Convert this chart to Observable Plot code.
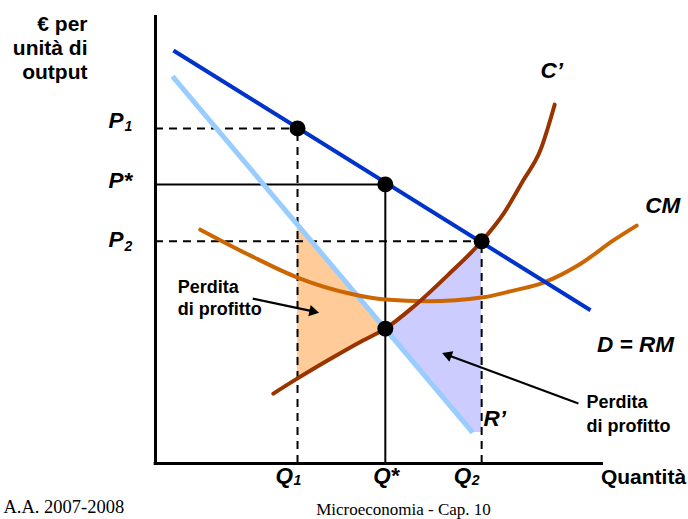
<!DOCTYPE html>
<html><head><meta charset="utf-8">
<script src="https://cdn.jsdelivr.net/npm/d3@7"></script>
<script src="https://cdn.jsdelivr.net/npm/@observablehq/plot@0.6"></script>
<style>body{margin:0;background:#fff}</style>
</head><body><div id="chart"></div>
<script>
// ---- data (quantity / price units 0–100) ----
const qLevels = [31.7, 51.3, 72.8];            // Q1, Q*, Q2
const qSubs   = ["1", "*", "2"];
const pLevels = [74.8, 62.3, 49.6];            // P1, P*, P2
const pSubs   = ["1", "*", "2"];

const demandX = [4.0, 97.1];                    // D = RM
const demandY = [92.2, 34.2];
const mrX = [3.8, 70.8];                        // R'
const mrY = [86.4, 6.9];
const mcX = [26.3, 31.7, 38.4, 45.8, 51.3, 57.6, 65.2, 72.8, 77.7, 82.1, 85.9, 89.1];   // C'
const mcY = [15.6, 19.0, 23.0, 27.2, 30.1, 35.0, 42.0, 49.6, 55.8, 63.2, 69.9, 80.1];
const acX = [10.0, 21.2, 31.7, 43.5, 51.3, 60.7, 73.2, 79.9, 86.6, 94.9, 102.2, 107.4]; // CM
const acY = [52.2, 46.4, 41.5, 37.9, 36.6, 36.2, 37.1, 38.6, 40.4, 44.6, 49.8, 53.1];

const lossLowX  = [31.7, 38.4, 45.8, 51.3];          // orange: between R' and C' (Q1..Q*)
const lossLowMC = [19.0, 23.0, 27.2, 30.1];
const lossLowMR = [53.3, 45.3, 36.6, 30.1];
const lossHighX  = [51.3, 57.6, 65.2, 70.8, 72.8];   // violet: between C' and R' (Q*..Q2)
const lossHighMC = [30.1, 35.0, 42.0, 47.6, 49.6];
const lossHighMR = [30.1, 22.6, 13.6, 6.9, 6.9];
const mcAtQstar = 30.1;

// annotation arrows (from label to shaded area)
const arrowStartX = [21.7, 94.4];
const arrowStartY = [36.8, 13.4];
const arrowEndX = [36.4, 64.1];
const arrowEndY = [33.7, 24.6];

const sans = "'Liberation Sans', Arial, Helvetica, sans-serif";
const serif = "'Liberation Serif', 'Times New Roman', serif";

const zip = (xs, ys) => xs.map((x, i) => ({x, y: ys[i]}));
const demand = zip(demandX, demandY);
const mr = zip(mrX, mrY);
const mc = zip(mcX, mcY);
const ac = zip(acX, acY);
const lossLow = lossLowX.map((x, i) => ({x, y1: lossLowMC[i], y2: lossLowMR[i]}));
const lossHigh = lossHighX.map((x, i) => ({x, y1: lossHighMR[i], y2: lossHighMC[i]}));

const [Q1, Qs, Q2] = qLevels;
const [P1, Ps, P2] = pLevels;

const dots = [{x: Q1, y: P1}, {x: Qs, y: Ps}, {x: Q2, y: P2}, {x: Qs, y: mcAtQstar}];

// arrows: shaft + filled triangular head
const pxPerUnit = 4.48;
const arrows = arrowStartX.map((x1, i) => {
  const y1 = arrowStartY[i], x2 = arrowEndX[i], y2 = arrowEndY[i];
  const sx = (x2 - x1) * pxPerUnit, sy = -(y2 - y1) * pxPerUnit; // screen vector
  const len = Math.hypot(sx, sy);
  const back = 6 / len;
  const rot = Math.atan2(sx, -sy) * 180 / Math.PI;
  const shaftBack = 8 / len;
  return {x1, y1, x2: x2 - (x2 - x1) * shaftBack, y2: y2 - (y2 - y1) * shaftBack,
          hx: x2 - (x2 - x1) * back, hy: y2 - (y2 - y1) * back, rot};
});

const bi = {fontFamily: sans, fontWeight: "bold", fontStyle: "italic"};

// label layout offsets (pixels) – main letter and subscript for each level
const pLayout = [{dy: -8, sdx: -31, sdy: -2, ss: 14}, {dy: -4, sdx: -32, sdy: -4, ss: 22.5}, {dy: -1, sdx: -31, sdy: 5, ss: 14}];
const qLayout = [{dx: -22, sdx: -4, sdy: 17, ss: 14}, {dx: -12, sdx: 5, sdy: 12, ss: 22.5}, {dx: -28, sdx: -10, sdy: 17, ss: 14}];

const pMarks = pLevels.flatMap((p, i) => [
  Plot.text([p], {x: 0, y: d => d, text: () => "P", dx: -47, dy: pLayout[i].dy, textAnchor: "start", fontSize: 22.5, ...bi}),
  Plot.text([p], {x: 0, y: d => d, text: () => pSubs[i], dx: pLayout[i].sdx, dy: pLayout[i].sdy, textAnchor: "start", fontSize: pLayout[i].ss, ...bi})
]);
const qMarks = qLevels.flatMap((q, i) => [
  Plot.text([q], {x: d => d, y: 0, text: () => "Q", dx: qLayout[i].dx, dy: 12, textAnchor: "start", fontSize: 22.5, ...bi}),
  Plot.text([q], {x: d => d, y: 0, text: () => qSubs[i], dx: qLayout[i].sdx, dy: qLayout[i].sdy, textAnchor: "start", fontSize: qLayout[i].ss, ...bi})
]);

const chart = Plot.plot({
  width: 688, height: 519,
  x: {domain: [0, 100], range: [155, 603], axis: null},
  y: {domain: [0, 100], range: [463, 15], axis: null},
  style: {background: "white", overflow: "visible"},
  marks: [
    // shaded profit losses
    Plot.areaY(lossLow, {x: "x", y1: "y1", y2: "y2", fill: "#ffcc99"}),
    Plot.areaY(lossHigh, {x: "x", y1: "y1", y2: "y2", fill: "#ccccff"}),
    // guide lines
    Plot.ruleY([P1], {x1: 0, x2: Q1, stroke: "black", strokeWidth: 2, strokeDasharray: "8,6"}),
    Plot.ruleX([Q1], {y1: 0, y2: P1, stroke: "black", strokeWidth: 2, strokeDasharray: "8,6"}),
    Plot.ruleY([P2], {x1: 0, x2: Q2, stroke: "black", strokeWidth: 2, strokeDasharray: "8,6"}),
    Plot.ruleX([Q2], {y1: 0, y2: P2, stroke: "black", strokeWidth: 2, strokeDasharray: "8,6"}),
    Plot.ruleY([Ps], {x1: 0, x2: Qs, stroke: "black", strokeWidth: 2}),
    Plot.ruleX([Qs], {y1: 0, y2: Ps, stroke: "black", strokeWidth: 2}),
    // curves
    Plot.line(mr, {x: "x", y: "y", stroke: "#99ccff", strokeWidth: 5, strokeLinecap: "butt"}),
    Plot.line(ac, {x: "x", y: "y", stroke: "#cc6600", strokeWidth: 4, curve: "monotone-x", strokeLinecap: "round"}),
    Plot.line(mc, {x: "x", y: "y", stroke: "#993300", strokeWidth: 4, curve: "monotone-x", strokeLinecap: "round"}),
    Plot.line(demand, {x: "x", y: "y", stroke: "#0033cc", strokeWidth: 4, strokeLinecap: "butt"}),
    // axes
    Plot.ruleX([0], {y1: 0, y2: 100, stroke: "black", strokeWidth: 3}),
    Plot.ruleY([0], {x1: -0.3, x2: 100, stroke: "black", strokeWidth: 3}),
    // equilibrium points
    Plot.dot(dots, {x: "x", y: "y", r: 8, fill: "black"}),
    // arrows
    Plot.link(arrows, {x1: "x1", y1: "y1", x2: "x2", y2: "y2", stroke: "black", strokeWidth: 2.2}),
    Plot.dot(arrows, {x: "hx", y: "hy", symbol: "triangle", r: 4.2, fill: "black", rotate: "rot"}),
    // price & quantity labels
    ...pMarks,
    ...qMarks,
    // curve labels
    Plot.text(["C’"], {x: mcX[mcX.length - 1], y: mcY[mcY.length - 1], dx: -3, dy: -34, textAnchor: "middle", fontSize: 22.5, ...bi}),
    Plot.text(["CM"], {x: acX[acX.length - 1], y: acY[acY.length - 1], dx: 26, dy: -20, textAnchor: "middle", fontSize: 22.5, ...bi}),
    Plot.text(["D = RM"], {x: demandX[1], y: demandY[1], dx: 45, dy: 35, textAnchor: "middle", fontSize: 22.5, ...bi}),
    Plot.text(["R’"], {x: mrX[1], y: mrY[1], dx: 22, dy: -14, textAnchor: "middle", fontSize: 22.5, ...bi}),
    // annotations
    Plot.text(["Perdita\ndi profitto"], {x: arrowStartX[0], y: arrowStartY[0], dx: -75, dy: -2, textAnchor: "start", lineAnchor: "middle", lineHeight: 1.25, fontSize: 18, fontFamily: sans, fontWeight: "bold"}),
    Plot.text(["Perdita\ndi profitto"], {x: arrowStartX[1], y: arrowStartY[1], dx: 8, dy: 9, textAnchor: "start", lineAnchor: "middle", lineHeight: 1.32, fontSize: 18, fontFamily: sans, fontWeight: "bold"}),
    // axis titles
    Plot.text(["€ per\nunità di\noutput"], {x: 0, y: 100, dx: -68, dy: 32, textAnchor: "end", lineAnchor: "middle", lineHeight: 1.15, fontSize: 21, fontFamily: sans, fontWeight: "bold"}),
    Plot.text(["Quantità"], {x: 100, y: 0, dx: 40, dy: 14, textAnchor: "middle", fontSize: 21, fontFamily: sans, fontWeight: "bold"}),
    // footer
    Plot.text(["A.A. 2007-2008"], {x: 0, y: 0, dx: -152, dy: 44, textAnchor: "start", fontSize: 18.5, fontFamily: serif}),
    Plot.text(["Microeconomia - Cap. 10"], {x: 0, y: 0, dx: 248, dy: 46, textAnchor: "middle", fontSize: 17, fontFamily: serif})
  ]
});
document.getElementById("chart").append(chart);
</script>
</body></html>
